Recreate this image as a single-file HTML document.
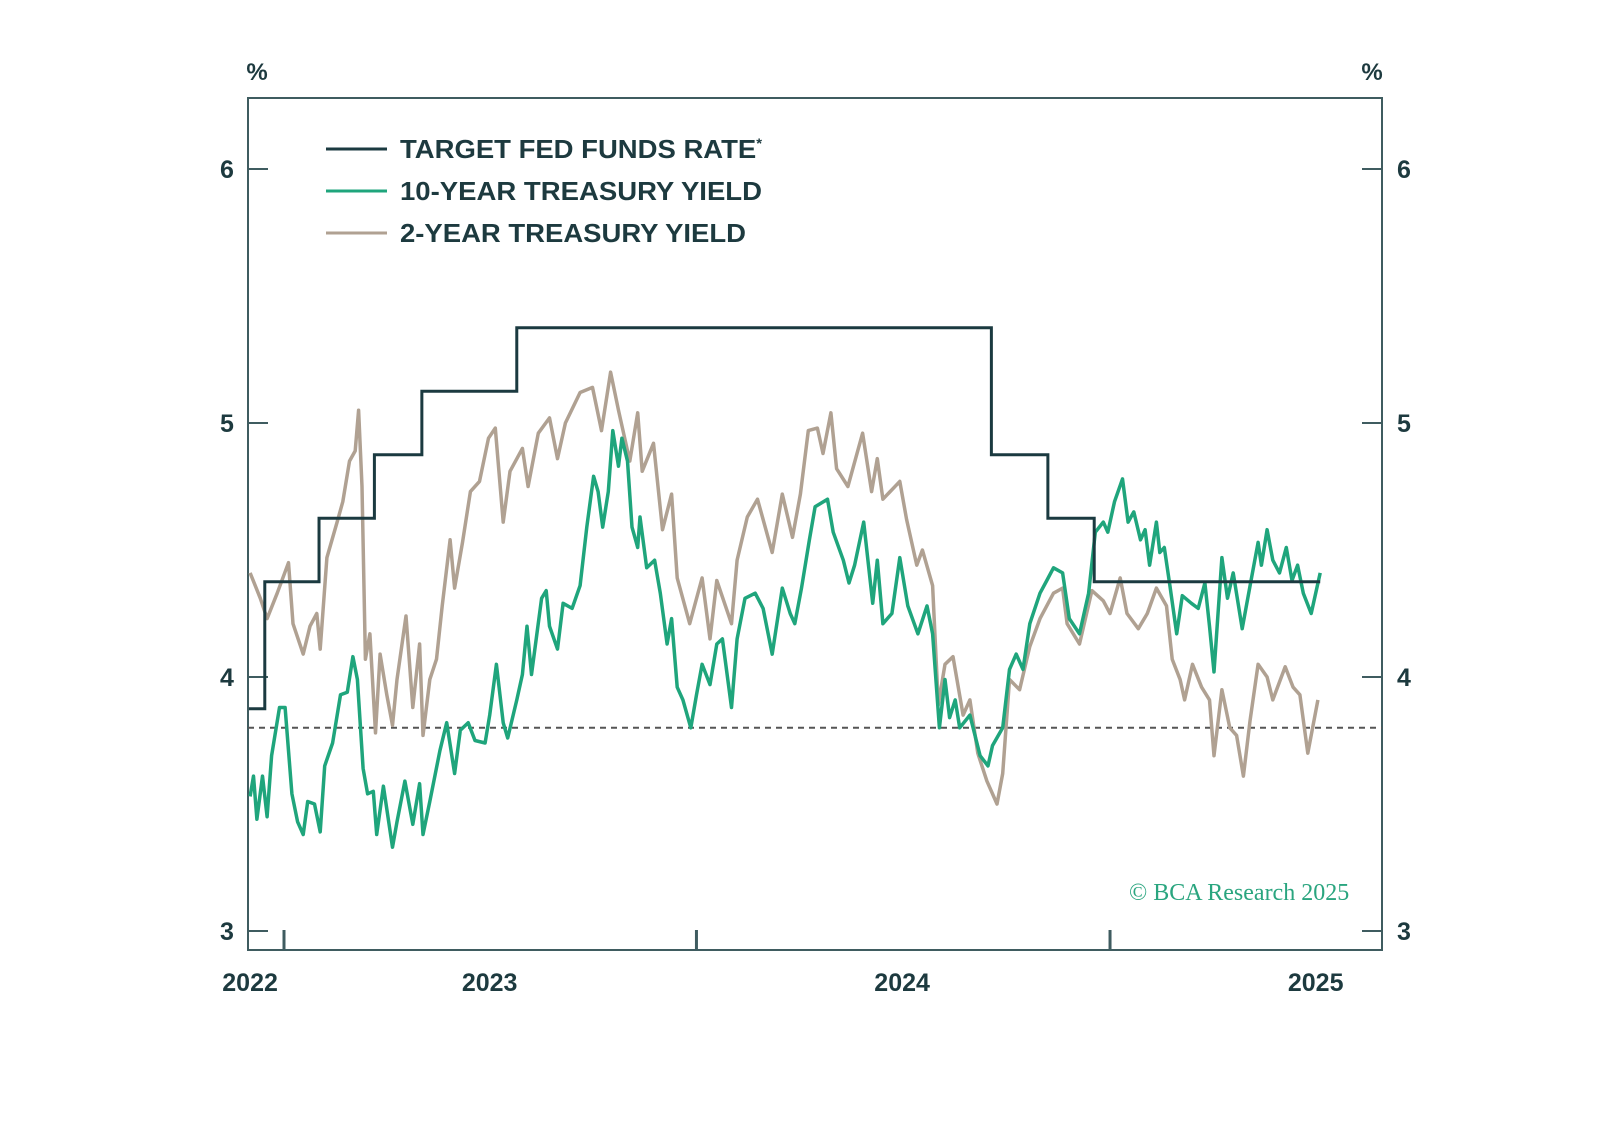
<!DOCTYPE html>
<html><head><meta charset="utf-8"><style>
html,body{margin:0;padding:0;background:#fff;}
svg{display:block;font-family:"Liberation Sans",sans-serif;}
</style></head><body>
<svg id="chart" width="1598" height="1144" viewBox="0 0 1598 1144" xmlns="http://www.w3.org/2000/svg">
<rect width="1598" height="1144" fill="#fff"/>
<g id="axes"></g>
<g id="series"></g>
<g>
 <line x1="326" y1="149" x2="387" y2="149" stroke="#1b3a40" stroke-width="3"/>
 <text x="400" y="158" font-size="26" font-weight="bold" fill="#1d3a3f" textLength="362" lengthAdjust="spacingAndGlyphs">TARGET FED FUNDS RATE<tspan font-size="14" dy="-10">*</tspan></text>
 <line x1="326" y1="191" x2="387" y2="191" stroke="#1fa57c" stroke-width="3"/>
 <text x="400" y="200" font-size="26" font-weight="bold" fill="#1d3a3f" textLength="362" lengthAdjust="spacingAndGlyphs">10-YEAR TREASURY YIELD</text>
 <line x1="326" y1="233" x2="387" y2="233" stroke="#b0a192" stroke-width="3"/>
 <text x="400" y="242" font-size="26" font-weight="bold" fill="#1d3a3f" textLength="346" lengthAdjust="spacingAndGlyphs">2-YEAR TREASURY YIELD</text>
</g>
<text x="1129" y="900" font-family="Liberation Serif, serif" font-size="24" fill="#2aa57f">© BCA Research 2025</text>
</svg>
<script>
// day offsets relative to 2023-01-01
const fedDays = [-31, -17, 31, 80, 122, 206, 626, 676, 717, 917];
const fedValues = [3.875, 4.375, 4.625, 4.875, 5.125, 5.375, 4.875, 4.625, 4.375, 4.375];
const twoYrDays = [-30,-21,-15,-6,4,8,17,23,29,32,38,47,52,58,63,66,69,72,76,81,85,91,96,100,108,114,120,123,129,135,140,147,151,158,165,173,181,187,194,200,211,216,225,235,242,249,262,273,281,289,296,306,313,317,327,335,343,348,359,370,377,383,396,401,410,419,432,441,450,457,464,472,477,484,489,499,512,520,525,530,545,551,560,565,574,579,585,592,601,607,614,622,631,636,642,651,660,669,681,689,693,704,715,725,731,740,746,756,764,772,781,786,793,797,804,812,819,823,830,837,843,849,855,862,870,875,886,893,899,906,915];
const twoYrValues = [4.41,4.31,4.23,4.33,4.45,4.21,4.09,4.20,4.25,4.11,4.47,4.61,4.69,4.85,4.89,5.05,4.75,4.07,4.17,3.78,4.09,3.93,3.81,3.99,4.24,3.88,4.13,3.77,3.99,4.07,4.28,4.54,4.35,4.53,4.73,4.77,4.94,4.98,4.61,4.81,4.90,4.75,4.96,5.02,4.86,5.00,5.12,5.14,4.97,5.20,5.05,4.85,5.04,4.81,4.92,4.58,4.72,4.39,4.21,4.39,4.15,4.38,4.21,4.46,4.63,4.70,4.49,4.72,4.55,4.72,4.97,4.98,4.88,5.04,4.82,4.75,4.96,4.73,4.86,4.70,4.77,4.62,4.44,4.50,4.36,3.89,4.05,4.08,3.85,3.91,3.70,3.59,3.50,3.62,3.99,3.95,4.12,4.23,4.33,4.35,4.21,4.13,4.34,4.30,4.25,4.39,4.25,4.19,4.25,4.35,4.28,4.07,3.99,3.91,4.05,3.96,3.91,3.69,3.95,3.80,3.77,3.61,3.83,4.05,4.00,3.91,4.04,3.96,3.93,3.70,3.91];
const tenYrDays = [-30,-27,-24,-19,-15,-11,-4,1,7,12,17,21,27,32,36,43,50,56,61,65,70,74,79,82,88,96,100,107,114,120,123,129,138,144,151,156,163,169,178,182,188,194,198,206,211,215,219,228,232,235,242,247,255,262,268,274,278,282,287,291,296,299,304,308,313,315,321,328,333,339,343,348,353,360,365,370,377,383,388,396,401,408,417,424,432,441,448,452,458,465,470,481,486,495,500,505,513,521,525,530,538,545,552,561,569,574,580,585,589,594,598,607,616,623,627,636,642,648,654,660,669,675,681,689,695,704,712,718,725,729,735,742,747,752,758,762,766,772,775,779,784,790,795,803,809,815,819,823,830,835,840,848,855,862,865,870,875,881,887,892,897,902,909,917];
const tenYrValues = [3.53,3.61,3.44,3.61,3.45,3.69,3.88,3.88,3.54,3.43,3.38,3.51,3.50,3.39,3.65,3.74,3.93,3.94,4.08,3.99,3.64,3.54,3.55,3.38,3.57,3.33,3.43,3.59,3.42,3.58,3.38,3.51,3.71,3.82,3.62,3.79,3.82,3.75,3.74,3.85,4.05,3.82,3.76,3.91,4.01,4.20,4.01,4.31,4.34,4.20,4.11,4.29,4.27,4.36,4.59,4.79,4.73,4.59,4.73,4.97,4.83,4.94,4.85,4.59,4.51,4.63,4.43,4.46,4.33,4.13,4.23,3.96,3.91,3.80,3.93,4.05,3.97,4.13,4.15,3.88,4.15,4.31,4.33,4.27,4.09,4.35,4.25,4.21,4.35,4.54,4.67,4.70,4.57,4.46,4.37,4.44,4.61,4.29,4.46,4.21,4.25,4.47,4.28,4.17,4.28,4.17,3.80,3.99,3.84,3.91,3.80,3.85,3.69,3.65,3.73,3.80,4.03,4.09,4.03,4.21,4.33,4.38,4.43,4.41,4.23,4.17,4.33,4.57,4.61,4.57,4.69,4.78,4.61,4.65,4.54,4.58,4.44,4.61,4.49,4.51,4.36,4.17,4.32,4.29,4.27,4.37,4.20,4.02,4.47,4.31,4.41,4.19,4.36,4.53,4.44,4.58,4.46,4.41,4.51,4.38,4.44,4.33,4.25,4.41];
const yTicks = [3, 4, 5, 6];
const yearLabels = ["2022", "2023", "2024", "2025"];
const yearLabelDays = [-30, 182, 547, 913];
const yearTickDays = [0, 365, 731];
const refLevel = 3.8;

const NS = "http://www.w3.org/2000/svg";
const L = 248, R = 1382, T = 98, B = 950;
function xScale(d) { return 284 + d * 1.13; }
function yScale(v) { return 677 - (v - 4) * 254; }
function mk(tag, attrs, parent) {
  const e = document.createElementNS(NS, tag);
  for (const k in attrs) e.setAttribute(k, attrs[k]);
  parent.appendChild(e);
  return e;
}
const axes = document.getElementById("axes");
const series = document.getElementById("series");
const frameColor = "#3f5c60", txt = "#1d3a3f";

const frame = mk("rect", {x: L, y: T, width: R - L, height: B - T, fill: "none", stroke: frameColor, "stroke-width": 2}, axes);



yTicks.forEach(v => {
  const y = yScale(v);
  const lt = mk("line", {x1: L, x2: L + 20, y1: y, y2: y, stroke: frameColor, "stroke-width": 2}, axes);
  
  
  const rt = mk("line", {x1: R - 20, x2: R, y1: y, y2: y, stroke: frameColor, "stroke-width": 2}, axes);
  
  
  const ll = mk("text", {x: 227, y: y + 9, "font-size": 25, "font-weight": "bold", fill: txt, "text-anchor": "middle"}, axes);
  ll.textContent = v;
  
  
  const rl = mk("text", {x: 1404, y: y + 9, "font-size": 25, "font-weight": "bold", fill: txt, "text-anchor": "middle"}, axes);
  rl.textContent = v;
  
  
});
["left", "right"].forEach((s, i) => {
  const p = mk("text", {x: i ? 1372 : 257, y: 80, "font-size": 24, "font-weight": "bold", fill: txt, "text-anchor": "middle"}, axes);
  p.textContent = "%";
  
  
});
yearTickDays.forEach(d => {
  const x = xScale(d);
  const t = mk("line", {x1: x, x2: x, y1: B - 20, y2: B, stroke: frameColor, "stroke-width": 3}, axes);
  
  
});
yearLabels.forEach((lab, i) => {
  const t = mk("text", {x: xScale(yearLabelDays[i]), y: 991, "font-size": 25, "font-weight": "bold", fill: txt, "text-anchor": "middle"}, axes);
  t.textContent = lab;
  
  
});
const ref = mk("line", {x1: L, x2: R, y1: yScale(refLevel), y2: yScale(refLevel), stroke: "#555", "stroke-width": 2, "stroke-dasharray": "6 5"}, axes);



function linePath(days, vals) {
  return days.map((d, i) => (i ? "L" : "M") + xScale(d).toFixed(1) + "," + yScale(vals[i]).toFixed(1)).join("");
}
let fd = "";
fedDays.forEach((d, i) => {
  const x = xScale(d), y = yScale(fedValues[i]);
  if (i === 0) fd += "M" + x + "," + y;
  else fd += "H" + x + "V" + y;
});
const p2 = mk("path", {d: linePath(twoYrDays, twoYrValues), fill: "none", stroke: "#b0a192", "stroke-width": 3.5, "stroke-linejoin": "round"}, series);


const p10 = mk("path", {d: linePath(tenYrDays, tenYrValues), fill: "none", stroke: "#1fa57c", "stroke-width": 3.5, "stroke-linejoin": "round"}, series);


const pf = mk("path", {d: fd, fill: "none", stroke: "#1b3a40", "stroke-width": 3}, series);


</script>
</body></html>
